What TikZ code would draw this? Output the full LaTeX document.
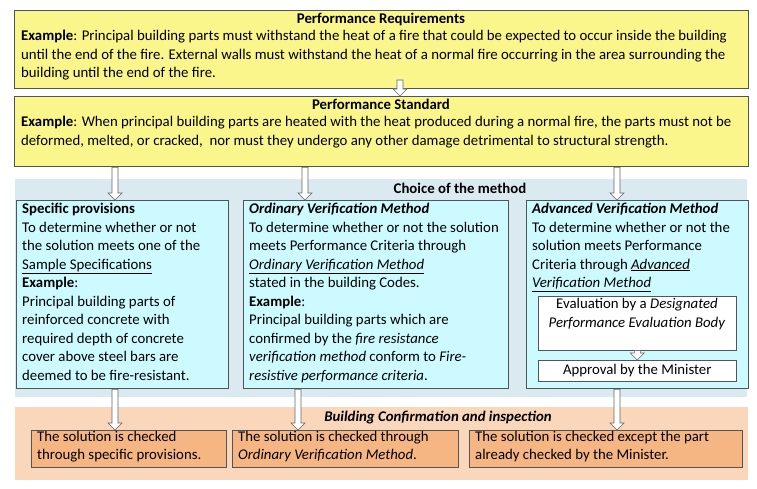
\documentclass[tikz,border=0pt]{standalone}
\usepackage{fontspec}
\setmainfont{Carlito}
\usetikzlibrary{calc}
\definecolor{yel}{RGB}{250,246,140}
\definecolor{bband}{RGB}{219,234,240}
\definecolor{bbox}{RGB}{204,250,255}
\definecolor{oband}{RGB}{250,214,186}
\definecolor{obox}{RGB}{246,182,132}
\definecolor{edge}{RGB}{80,85,90}
\begin{document}
\begin{tikzpicture}[x=1pt,y=-1pt,
  box/.style={draw=edge,line width=1.4pt,anchor=north west,inner sep=0pt},
  txt/.style={anchor=north west,align=left,inner sep=0pt,font=\fontsize{14.8}{18.5}\selectfont},
  ttl/.style={inner sep=0pt,font=\fontsize{14.8}{15}\selectfont\bfseries},
  wbox/.style={draw=edge,line width=0.6pt,fill=white,anchor=north west,inner sep=0pt,align=center,font=\fontsize{14.8}{18.5}\selectfont},
  harrow/.style={draw=gray!80!black,fill=white,line width=0.6pt,
    to path={let \p1=(\tikztostart),\p2=(\tikztotarget) in
      (\x1-3pt,\y1) -- (\x1+3pt,\y1) -- (\x1+3pt,\y2+7pt) -- (\x1+7pt,\y2+7pt) -- (\x1,\y2)
      -- (\x1-7pt,\y2+7pt) -- (\x1-3pt,\y2+7pt) -- cycle}}]
\useasboundingbox (0,0) rectangle (757,489);
\fill[white] (0,0) rectangle (757,489);
% bands
\node[anchor=north west,fill=bband,minimum width=732pt,minimum height=218pt,inner sep=0pt] (band1) at (15,179) {};
\node[anchor=north west,fill=oband,minimum width=733pt,minimum height=73pt,inner sep=0pt] (band2) at (15,407) {};
% top boxes
\node[box,fill=yel,minimum width=734pt,minimum height=78pt] (b1) at (14,10) {};
\node[ttl] (t1) at (381,19) {Performance Requirements};
\node[txt] (x1) at (21,30) {\textbf{Example}: Principal building parts must withstand the heat of a fire that could be expected to occur inside the building\\
until the end of the fire. External walls must withstand the heat of a normal fire occurring in the area surrounding the\\
building until the end of the fire.};
\node[box,fill=yel,minimum width=734pt,minimum height=70pt] (b2) at (14,96) {};
\node[ttl] (t2) at (381,104) {Performance Standard};
\node[txt] (x2) at (21,116) {\textbf{Example}: When principal building parts are heated with the heat produced during a normal fire, the parts must not be\\
deformed, melted, or cracked,\ \ nor must they undergo any other damage detrimental to structural strength.};
\coordinate (s1) at (400,80);
\draw[harrow] (s1) to (b2.north -| s1);
\node[ttl] (cm) at (460,188) {Choice of the method};
% blue boxes
\node[box,fill=bbox,minimum width=212pt,minimum height=188pt] (c1) at (16,200) {};
\node[box,fill=bbox,minimum width=265pt,minimum height=188pt] (c2) at (243,200) {};
\node[box,fill=bbox,minimum width=222pt,minimum height=188pt] (c3) at (526,200) {};
\node[txt] (y1) at (22,203) {\textbf{Specific provisions}\\To determine whether or not\\the solution meets one of the\\\underline{Sample Specifications}\\\textbf{Example}:\\Principal building parts of\\reinforced concrete with\\required depth of concrete\\cover above steel bars are\\deemed to be fire-resistant.};
\node[txt] (y2) at (249,203) {\textbf{\itshape Ordinary Verification Method}\\To determine whether or not the solution\\meets Performance Criteria through\\\underline{\itshape Ordinary Verification Method}\\stated in the building Codes.\\\textbf{Example}:\\Principal building parts which are\\confirmed by the \textit{fire resistance}\\\textit{verification method} conform to \textit{Fire-}\\\textit{resistive performance criteria}.};
\node[txt] (y3) at (532,203) {\textbf{\itshape Advanced Verification Method}\\To determine whether or not the\\solution meets Performance\\Criteria through \underline{\itshape Advanced}\\\underline{\itshape Verification Method}};
\node[wbox,minimum width=198pt,minimum height=54pt] (w1) at (538,296) {};
\node[inner sep=0pt,align=center,font=\fontsize{14.8}{18.5}\selectfont] (w1t) at (637,314) {Evaluation by a \textit{Designated}\\\textit{Performance Evaluation Body}};
\node[wbox,minimum width=198pt,minimum height=21pt] (w2) at (538,360) {Approval by the Minister};
\draw[harrow] (w1.south) to (w2.north);
% arrows from standard
\coordinate (a1) at (115,0); \coordinate (a2) at (305,0); \coordinate (a3) at (617,0);
\draw[harrow] (b2.south -| a1) to (c1.north -| a1);
\draw[harrow] (b2.south -| a2) to (c2.north -| a2);
\draw[harrow] (b2.south -| a3) to (c3.north -| a3);
% orange
\node[ttl,font=\fontsize{14.8}{15}\selectfont\bfseries\itshape] (bc) at (438,418) {Building Confirmation and inspection};
\node[box,draw=edge,line width=0.6pt,fill=obox,minimum width=195pt,minimum height=37pt] (o1) at (31,430) {};
\node[box,draw=edge,line width=0.6pt,fill=obox,minimum width=226pt,minimum height=37pt] (o2) at (232,430) {};
\node[box,draw=edge,line width=0.6pt,fill=obox,minimum width=273pt,minimum height=37pt] (o3) at (469,430) {};
\node[txt] (z1) at (37,431) {The solution is checked\\through specific provisions.};
\node[txt] (z2) at (238,431) {The solution is checked through\\\textit{Ordinary Verification Method}.};
\node[txt] (z3) at (475,431) {The solution is checked except the part\\already checked by the Minister.};
\coordinate (d2) at (298,0);
\draw[harrow] (c1.south -| a1) to (o1.north -| a1);
\draw[harrow] (c2.south -| d2) to (o2.north -| d2);
\draw[harrow] (c3.south -| a3) to (o3.north -| a3);
\end{tikzpicture}
\end{document}
